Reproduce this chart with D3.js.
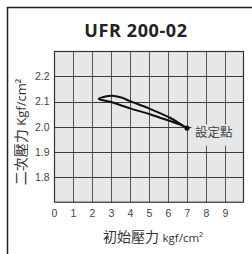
<!DOCTYPE html>
<html lang="zh-Hant">
<head>
  <meta charset="UTF-8">
  <title>UFR 200-02</title>
  <script src="https://d3js.org/d3.v7.min.js"></script>
  <style>
    body {
      margin: 0;
      background: #fff;
      font-family: "Open Sans", "Noto Sans CJK TC", sans-serif;
    }
    .tick text { fill: #444; font-size: 10.5px; }
    .domain { display: none; }
  </style>
</head>
<body>
<div id="chart"></div>
<script>
  // data
  var xTicks = [0, 1, 2, 3, 4, 5, 6, 7, 8, 9];
  var yTicks = [1.8, 1.9, 2.0, 2.1, 2.2];
  // upper branch: from set point back to the left tip
  var upperX = [7, 6.6, 6.1, 5.05, 4, 3.5, 3.05, 2.7, 2.35];
  var upperY = [1.995, 2.014, 2.036, 2.071, 2.102, 2.117, 2.123, 2.12, 2.11];
  // lower branch: from the left tip back to the set point
  var lowerX = [2.95, 4, 5.05, 6.1, 6.6, 7];
  var lowerY = [2.099, 2.073, 2.05, 2.023, 2.01, 1.995];
  var setPoint = [7, 1.995];

  var W = 252, H = 254;
  var svg = d3.select("#chart").append("svg")
    .attr("width", W)
    .attr("height", H);

  var x = d3.scaleLinear().domain([0, 10]).range([54, 244]);
  var y = d3.scaleLinear().domain([1.7, 2.3]).range([202.7, 51]);

  // outer frame (only left and top visible)
  svg.append("path")
    .attr("d", "M7.5," + H + "V7.5H" + W)
    .attr("fill", "none")
    .attr("stroke", "#222")
    .attr("stroke-width", 1.5);

  // title
  svg.append("text")
    .attr("x", 136)
    .attr("y", 37)
    .attr("text-anchor", "middle")
    .attr("font-size", 18)
    .attr("font-weight", "bold")
    .attr("letter-spacing", 0.6)
    .attr("fill", "#222")
    .text("UFR 200-02");

  // plot background
  svg.append("rect")
    .attr("x", x(0))
    .attr("y", y(2.3))
    .attr("width", x(10) - x(0))
    .attr("height", y(1.7) - y(2.3))
    .attr("fill", "#e6e7e9");

  // grid
  var grid = svg.append("g").attr("stroke", "#3c3c3c").attr("stroke-width", 1);
  grid.selectAll(".vx").data(d3.range(1, 10)).enter().append("line")
    .attr("x1", function(d) { return Math.round(x(d)) + 0.5; })
    .attr("x2", function(d) { return Math.round(x(d)) + 0.5; })
    .attr("y1", y(2.3))
    .attr("y2", y(1.7))
    .attr("stroke", "#555");
  grid.selectAll(".hy").data(yTicks).enter().append("line")
    .attr("x1", x(0))
    .attr("x2", x(10))
    .attr("y1", function(d) { return Math.round(y(d)) + 0.5; })
    .attr("y2", function(d) { return Math.round(y(d)) + 0.5; });

  // label box for set point covers grid
  svg.append("rect")
    .attr("x", 191.5)
    .attr("y", 124.3)
    .attr("width", x(10) - 191.5 - 0.5)
    .attr("height", 21.4)
    .attr("fill", "#e6e7e9");

  // plot border
  svg.append("rect")
    .attr("x", x(0) + 0.5)
    .attr("y", y(2.3) + 0.5)
    .attr("width", x(10) - x(0) - 1)
    .attr("height", y(1.7) - y(2.3) - 1)
    .attr("fill", "none")
    .attr("stroke", "#333")
    .attr("stroke-width", 1.2);

  // axes labels
  svg.append("g")
    .attr("transform", "translate(0," + y(1.7) + ")")
    .call(d3.axisBottom(x).tickValues(xTicks).tickSize(0).tickPadding(7).tickFormat(d3.format("d")));

  svg.append("g")
    .attr("transform", "translate(" + x(0) + ",0)")
    .call(d3.axisLeft(y).tickValues(yTicks).tickSize(0).tickPadding(4.5).tickFormat(d3.format(".1f")));

  // curve
  var pts = d3.zip(upperX, upperY).concat(d3.zip(lowerX, lowerY));
  var line = d3.line()
    .x(function(d) { return x(d[0]); })
    .y(function(d) { return y(d[1]); })
    .curve(d3.curveCatmullRom);
  svg.append("path")
    .attr("d", line(pts))
    .attr("fill", "none")
    .attr("stroke", "#111")
    .attr("stroke-width", 2);

  svg.append("circle")
    .attr("cx", x(setPoint[0]))
    .attr("cy", y(setPoint[1]))
    .attr("r", 2.6)
    .attr("fill", "#111");

  svg.append("text")
    .attr("x", 195)
    .attr("y", 137)
    .attr("font-size", 12.5)
    .attr("fill", "#444")
    .text("設定點");

  // axis titles
  var xt = svg.append("text")
    .attr("x", 153)
    .attr("y", 242)
    .attr("text-anchor", "middle")
    .attr("fill", "#333");
  xt.append("tspan").attr("font-size", 14).text("初始壓力 ");
  xt.append("tspan").attr("font-size", 11.5).text("kgf/cm²");

  var yt = svg.append("text")
    .attr("transform", "translate(26,132) rotate(-90)")
    .attr("text-anchor", "middle")
    .attr("fill", "#333");
  yt.append("tspan").attr("font-size", 14).text("二次壓力 ");
  yt.append("tspan").attr("font-size", 13).text("Kgf/cm²");
</script>
</body>
</html>
